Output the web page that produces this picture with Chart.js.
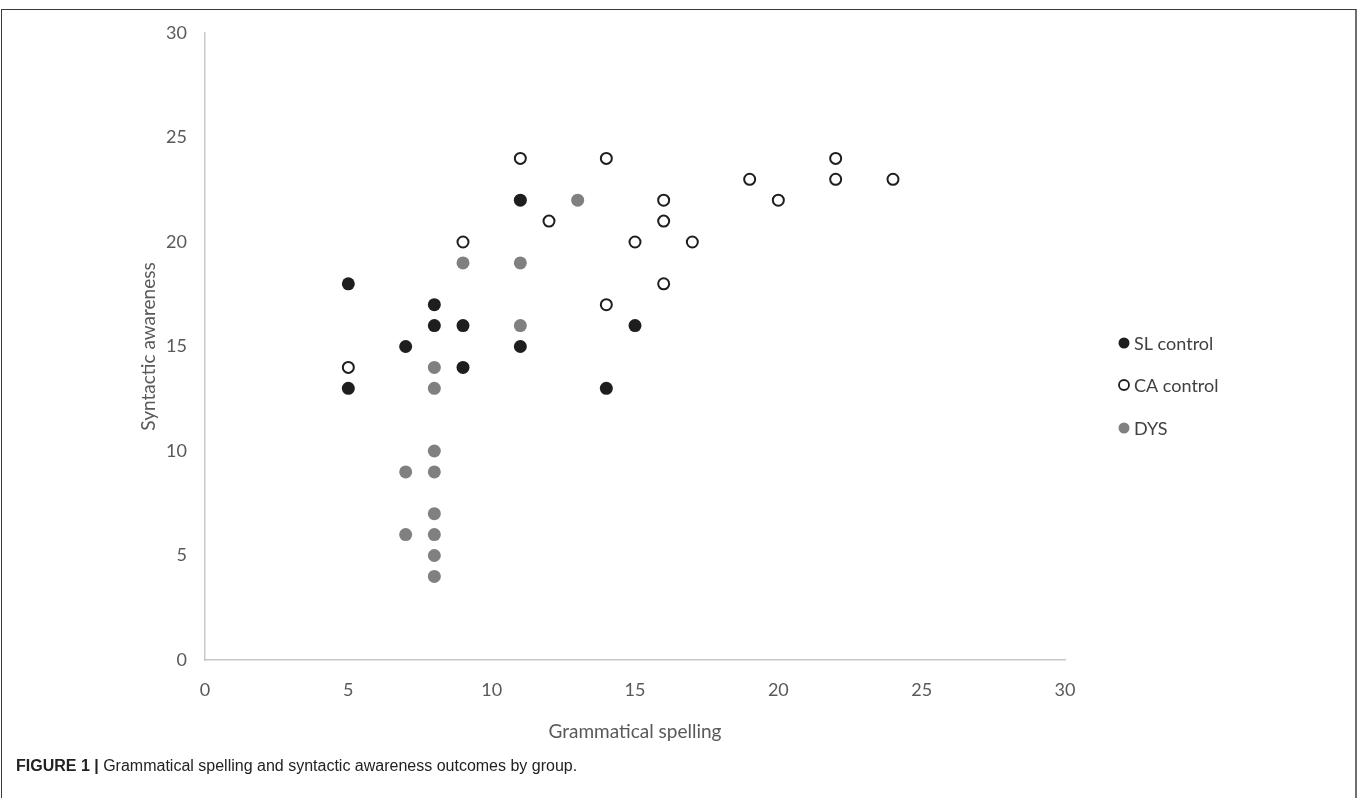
<!DOCTYPE html>
<html><head><meta charset="utf-8">
<script src="https://cdn.jsdelivr.net/npm/chart.js@4.4.0/dist/chart.umd.min.js"></script>
<style>
html,body{margin:0;padding:0;background:#fff;width:1357px;height:798px;overflow:hidden;}
#frame{position:absolute;left:1px;top:9px;width:1356px;height:830px;border-left:1.5px solid #3a3a3a;border-top:1.5px solid #3a3a3a;border-right:2px solid #707070;box-sizing:border-box;}
#wrap{position:absolute;left:0;top:0;width:1357px;height:798px;}
#caption{position:absolute;left:16px;top:757px;font-family:"Liberation Sans Narrow","Liberation Sans",Arial,sans-serif;font-size:16px;color:#222;white-space:nowrap;}
#caption b{font-weight:bold;}
</style></head>
<body>
<div id="frame"></div>
<div id="wrap"><canvas id="c"></canvas></div>
<div id="caption"><b>FIGURE 1 |</b> Grammatical spelling and syntactic awareness outcomes by group.</div>
<script>
// ---- data ----
const tickValues = [0, 5, 10, 15, 20, 25, 30];
const seriesNames = ["SL control", "CA control", "DYS"];
const slX = [5, 5, 7, 8, 8, 9, 9, 11, 11, 15, 14];
const slY = [18, 13, 15, 17, 16, 16, 14, 22, 15, 16, 13];
const caX = [5, 9, 11, 12, 14, 14, 15, 16, 16, 16, 17, 19, 20, 22, 22, 24];
const caY = [14, 20, 24, 21, 24, 17, 20, 22, 21, 18, 20, 23, 22, 24, 23, 23];
const dysX = [8, 8, 9, 11, 11, 13, 8, 8, 7, 8, 8, 7, 8, 8];
const dysY = [14, 13, 19, 19, 16, 22, 10, 9, 9, 7, 6, 6, 5, 4];
const xTitle = "Grammatical spelling";
const yTitle = "Syntactic awareness";

const pts = (xs, ys) => xs.map((x, i) => ({x: x, y: ys[i]}));

const legendPlugin = {
  id: 'sideLegend',
  afterDraw(chart) {
    const ctx = chart.ctx;
    const ys = [343, 385, 428];
    ctx.save();
    chart.data.datasets.forEach((ds, i) => {
      const cx = 1124, cy = ys[i];
      ctx.beginPath();
      ctx.arc(cx, cy, ds.borderWidth ? 5 : 5.5, 0, Math.PI * 2);
      ctx.fillStyle = ds.backgroundColor;
      ctx.fill();
      if (ds.borderWidth) { ctx.lineWidth = 1.8; ctx.strokeStyle = ds.borderColor; ctx.stroke(); }
      ctx.fillStyle = '#404040';
      ctx.font = '18px Lato';
      ctx.textAlign = 'left';
      ctx.textBaseline = 'middle';
      ctx.fillText(ds.label, 1134, cy + 1);
    });
    ctx.restore();
  }
};

const tickFromArray = (scale) => { scale.ticks = tickValues.map(v => ({value: v})); };

new Chart(document.getElementById('c'), {
  type: 'scatter',
  data: {
    datasets: [
      {label: seriesNames[0], data: pts(slX, slY), backgroundColor: '#1e1e1e', borderColor: '#1e1e1e', borderWidth: 0, pointRadius: 6.5},
      {label: seriesNames[1], data: pts(caX, caY), backgroundColor: '#ffffff', borderColor: '#1e1e1e', borderWidth: 2, pointRadius: 5.5},
      {label: seriesNames[2], data: pts(dysX, dysY), backgroundColor: '#808080', borderColor: '#808080', borderWidth: 0, pointRadius: 6.5}
    ]
  },
  options: {
    responsive: true,
    maintainAspectRatio: false,
    animation: false,
    layout: {padding: {left: 0, top: 33, right: 292, bottom: 48}},
    plugins: {legend: {display: false}, tooltip: {enabled: false}},
    scales: {
      x: {
        type: 'linear', min: 0, max: 30,
        afterBuildTicks: tickFromArray,
        afterFit: (s) => { s.height = 90; },
        grid: {display: false, drawTicks: false},
        border: {display: true, color: '#c8c8c8', width: 1.5},
        ticks: {color: '#595959', font: {family: 'Lato', size: 18}, padding: 19},
        title: {display: true, text: xTitle, color: '#595959', font: {family: 'Lato', size: 19}, padding: {top: 0, bottom: 7}}
      },
      y: {
        type: 'linear', min: 0, max: 30,
        afterBuildTicks: tickFromArray,
        afterFit: (s) => { s.width = 205; },
        grid: {display: false, drawTicks: false},
        border: {display: true, color: '#c8c8c8', width: 1.5},
        ticks: {color: '#595959', font: {family: 'Lato', size: 18}, padding: 18},
        title: {display: true, text: yTitle, color: '#595959', font: {family: 'Lato', size: 19}, padding: {top: 137, bottom: 0}}
      }
    }
  },
  plugins: [legendPlugin]
});
</script>
</body></html>
